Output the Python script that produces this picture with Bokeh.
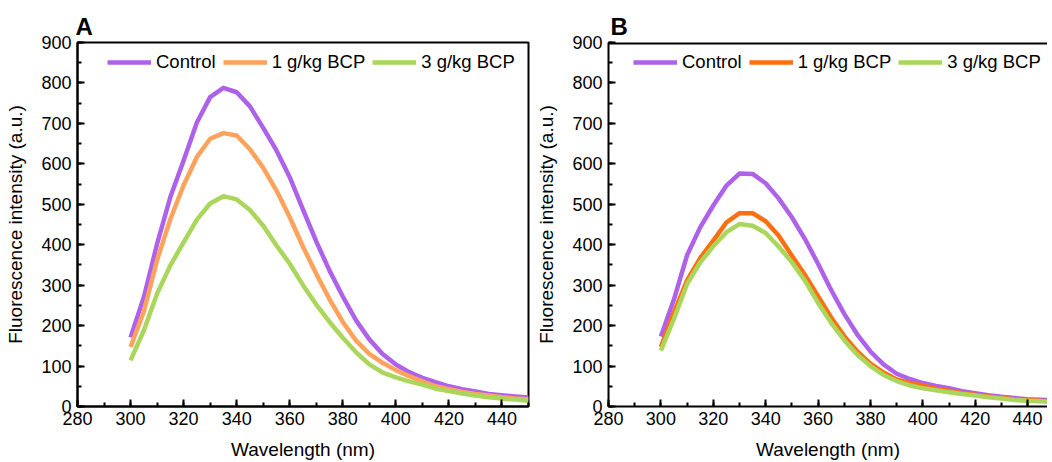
from bokeh.plotting import figure
from bokeh.layouts import row
from bokeh.models import Range1d, SingleIntervalTicker, Legend, LegendItem, Span
from bokeh.embed import file_html
from bokeh.resources import INLINE

# ---------------- data ----------------
wavelength = [300, 305, 310, 315, 320, 325, 330, 335, 340, 345, 350, 355, 360, 365, 370,
              375, 380, 385, 390, 395, 400, 405, 410, 415, 420, 425, 430, 435, 440, 445, 450]

series_names = ["Control", "1 g/kg BCP", "3 g/kg BCP"]

control_A = [171, 270, 402, 518, 608, 702, 765, 788, 777, 742, 689, 633, 567, 487, 408,
             336, 272, 213, 166, 130, 104, 85, 71, 60, 50, 43, 37, 31, 28, 25, 22]
bcp1_A = [147, 235, 362, 463, 547, 617, 662, 676, 670, 636, 590, 534, 468, 395, 328,
          265, 209, 163, 130, 108, 90, 75, 62, 50, 43, 36, 31, 27, 23, 20, 18]
bcp3_A = [114, 188, 279, 349, 406, 462, 502, 520, 512, 486, 447, 398, 353, 300, 252,
          209, 170, 134, 104, 84, 72, 62, 54, 44, 38, 32, 27, 23, 20, 17, 14]

control_B = [173, 265, 374, 443, 497, 546, 576, 575, 552, 514, 468, 414, 353, 288, 229,
             178, 136, 104, 81, 68, 58, 51, 45, 38, 33, 28, 24, 21, 18, 17, 15]
bcp1_B = [147, 233, 312, 367, 410, 455, 478, 478, 458, 422, 373, 325, 273, 220, 174,
          136, 106, 84, 67, 58, 52, 44, 39, 33, 29, 25, 21, 18, 16, 14, 13]
bcp3_B = [138, 217, 303, 356, 396, 431, 451, 447, 429, 395, 357, 311, 256, 207, 164,
          128, 100, 78, 63, 52, 45, 40, 35, 31, 27, 23, 20, 16, 14, 13, 11]

colors_A = ["#AE62EA", "#FFA25C", "#A9D65B"]
colors_B = ["#AE62EA", "#FF6F0F", "#A9D65B"]

FONT = "Liberation Sans"


def make_panel(letter, width, x_end, ys, colors, legend_x, outline, mb_left, mb_right,
               title_offset):
    p = figure(width=width, height=462, x_range=Range1d(280, x_end), y_range=Range1d(0, 900),
               output_backend="svg", toolbar_location=None,
               min_border_left=mb_left, min_border_right=mb_right, min_border_top=42,
               min_border_bottom=56, background_fill_color="white",
               border_fill_color="white")
    p.xgrid.visible = False
    p.ygrid.visible = False

    # panel letter as title
    p.title.text = letter
    p.title.text_font = FONT
    p.title.text_font_size = "24px"
    p.title.text_font_style = "bold"
    p.title.text_color = "black"
    p.title.align = "left"
    p.title.offset = title_offset
    p.title.standoff = 5

    if outline:
        p.outline_line_color = "black"
        p.outline_line_width = 2
    else:
        p.outline_line_color = None
        p.add_layout(Span(location=900, dimension="width", line_color="black", line_width=4))

    p.xaxis.ticker = SingleIntervalTicker(interval=20, num_minor_ticks=2)
    p.yaxis.ticker = SingleIntervalTicker(interval=100, num_minor_ticks=2)
    p.xaxis.axis_label = "Wavelength (nm)"
    p.yaxis.axis_label = "Fluorescence intensity (a.u.)"
    for ax in (p.xaxis, p.yaxis):
        ax.axis_line_width = 2
        ax.axis_line_color = "black"
        ax.major_tick_in = 7
        ax.major_tick_out = 0
        ax.minor_tick_in = 4
        ax.minor_tick_out = 0
        ax.major_tick_line_width = 2
        ax.minor_tick_line_width = 2
        ax.major_tick_line_color = "black"
        ax.minor_tick_line_color = "black"
        ax.major_label_text_font = FONT
        ax.major_label_text_font_size = "18px"
        ax.major_label_text_color = "black"
        ax.axis_label_text_font = FONT
        ax.axis_label_text_font_size = "19px"
        ax.axis_label_text_font_style = "normal"
        ax.axis_label_text_color = "black"
    p.xaxis.major_label_standoff = 5
    p.xaxis.axis_label_standoff = 11
    p.yaxis.major_label_standoff = 6
    p.yaxis.axis_label_standoff = 12

    items = []
    for name, y, c in zip(series_names, ys, colors):
        r = p.line(wavelength, y, line_color=c, line_width=4.5, line_join="round")
        items.append(LegendItem(label=name, renderers=[r]))

    leg = Legend(items=items, orientation="horizontal", location=(legend_x, 333),
                 glyph_width=44, glyph_height=22, label_height=22, label_standoff=5,
                 spacing=7, padding=1, margin=0, border_line_color=None,
                 background_fill_color="white", background_fill_alpha=1,
                 label_text_font=FONT, label_text_font_size="18.5px",
                 label_text_color="black")
    p.add_layout(leg, "center")
    return p


pA = make_panel("A", 533, 450, [control_A, bcp1_A, bcp3_A], colors_A, 30, True, 77, 5, -2)
pB = make_panel("B", 514, 447.6, [control_B, bcp1_B, bcp3_B], colors_B, 25, False, 69, 0, 2)

layout = row(pA, pB)
open("out.html", "w").write(file_html(layout, INLINE))
